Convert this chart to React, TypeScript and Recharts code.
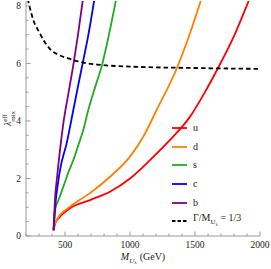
import React from 'react';
import { LineChart, Line, XAxis, YAxis } from 'recharts';

// mass grid (GeV) and lambda values, one pair of arrays per quark
const uMass = [412, 425, 462, 538, 692, 846, 1000, 1154, 1308, 1462, 1570, 1677, 1800, 1915];
const uLambda = [0.2, 0.45, 0.67, 0.96, 1.25, 1.54, 2.0, 2.64, 3.34, 4.15, 4.95, 5.84, 6.95, 8.2];

const dMass = [412, 420, 436, 538, 692, 846, 1000, 1102, 1205, 1362, 1450, 1546];
const dLambda = [0.2, 0.4, 0.56, 1.02, 1.49, 2.06, 2.76, 3.45, 4.38, 5.85, 6.9, 8.2];

const sMass = [412, 416, 423, 450, 487, 525, 564, 602, 641, 679, 730, 785, 838, 892];
const sLambda = [0.2, 0.5, 0.9, 1.25, 1.71, 2.2, 2.64, 3.15, 3.69, 4.38, 5.15, 5.95, 7.0, 8.2];

const cMass = [412, 418, 428, 445, 462, 513, 564, 600, 636, 680, 725];
const cLambda = [0.2, 0.6, 1.2, 1.8, 2.3, 3.23, 4.38, 5.2, 6, 7, 8.2];

const bMass = [412, 416, 422, 438, 462, 490, 528, 566, 600, 637];
const bLambda = [0.2, 0.6, 1.2, 2, 3, 4, 5, 6, 7, 8.2];

// width condition Gamma/M = 1/3
const wMass = [213, 230, 256, 300, 333, 385, 450, 515, 638, 769, 1000, 1500, 2000];
const wLambda = [8.25, 7.93, 7.51, 7.1, 6.82, 6.5, 6.3, 6.19, 6.03, 5.95, 5.89, 5.84, 5.81];

const xTicks = [200, 300, 400, 500, 600, 700, 800, 900, 1000, 1100, 1200, 1300, 1400, 1500, 1600, 1700, 1800, 1900, 2000];
const xLabels = [500, 1000, 1500, 2000];
const yTicks = [0, 0.5, 1, 1.5, 2, 2.5, 3, 3.5, 4, 4.5, 5, 5.5, 6, 6.5, 7, 7.5, 8];
const yLabels = [0, 2, 4, 6, 8];

const toPoints = (xs: number[], ys: number[]) => xs.map((x, i) => ({ x, y: ys[i] }));

const series = [
  { name: 'u', color: '#ff0000', data: toPoints(uMass, uLambda) },
  { name: 'd', color: '#ff8000', data: toPoints(dMass, dLambda) },
  { name: 's', color: '#22aa22', data: toPoints(sMass, sLambda) },
  { name: 'c', color: '#0000ff', data: toPoints(cMass, cLambda) },
  { name: 'b', color: '#800080', data: toPoints(bMass, bLambda) },
];
const widthLine = toPoints(wMass, wLambda);

const FONT = '"Liberation Serif", "DejaVu Serif", serif';
const FRAME = '#999999';
const TXT = '#222222';
const MAJOR = 4.5;
const MINOR = 2.5;

const BottomTick = (props: any) => {
  const { x, y, payload } = props;
  const axisY = y - 4;
  const major = xLabels.includes(payload.value);
  return (
    <g>
      <line x1={x} x2={x} y1={axisY} y2={axisY - (major ? MAJOR : MINOR)} stroke={FRAME} />
      {major && (
        <text x={x} y={axisY + 12} textAnchor="middle" fontFamily={FONT} fontSize={9.5} fill={TXT}>
          {payload.value}
        </text>
      )}
    </g>
  );
};

const TopTick = (props: any) => {
  const { x, y, payload } = props;
  const major = xLabels.includes(payload.value);
  return <line x1={x} x2={x} y1={y} y2={y + (major ? MAJOR : MINOR)} stroke={FRAME} />;
};

const LeftTick = (props: any) => {
  const { x, y, payload } = props;
  const axisX = x + 5;
  const major = yLabels.includes(payload.value);
  return (
    <g>
      <line x1={axisX} x2={axisX + (major ? MAJOR : MINOR)} y1={y} y2={y} stroke={FRAME} />
      {major && (
        <text x={x} y={y} dy="0.35em" textAnchor="end" fontFamily={FONT} fontSize={9.5} fill={TXT}>
          {payload.value}
        </text>
      )}
    </g>
  );
};

const RightTick = (props: any) => {
  const { x, y, payload } = props;
  const major = yLabels.includes(payload.value);
  return <line x1={x} x2={x - (major ? MAJOR : MINOR)} y1={y} y2={y} stroke={FRAME} />;
};

const XTitle = (props: any) => {
  const vb = props.viewBox;
  return (
    <text x={vb.x + vb.width / 2} y={vb.y + 24} textAnchor="middle" fontFamily={FONT} fontSize={10} fill={TXT}>
      <tspan fontStyle="italic">M</tspan>
      <tspan fontStyle="italic" fontSize={7} dy={2.5}>U</tspan>
      <tspan fontSize={5} dy={1.5}>λ</tspan>
      <tspan dy={-4} dx={3}>(GeV)</tspan>
    </text>
  );
};

const YTitle = (props: any) => {
  const vb = props.viewBox;
  const cx = 11;
  const cy = vb.y + vb.height / 2;
  return (
    <text transform={`translate(${cx},${cy}) rotate(-90)`} textAnchor="middle" fontFamily={FONT} fontSize={10} fill={TXT}>
      <tspan fontStyle="italic">λ</tspan>
      <tspan fontSize={7} dy={-4}>eff</tspan>
      <tspan fontSize={7} dx={-7.8} dy={7.5}>mix</tspan>
    </text>
  );
};

const LegendRow: React.FC<{ color: string; dashed?: boolean; children: React.ReactNode }> = ({ color, dashed, children }) => (
  <div style={{ display: 'flex', alignItems: 'center', height: 18.6 }}>
    <svg width={15} height={4} style={{ display: 'block' }}>
      <line x1={0} x2={15} y1={2} y2={2} stroke={color} strokeWidth={1.8} strokeDasharray={dashed ? '3.5 2' : undefined} />
    </svg>
    <span style={{ marginLeft: 6, fontFamily: FONT, fontSize: 10, color: TXT, lineHeight: '12px', whiteSpace: 'nowrap' }}>
      {children}
    </span>
  </div>
);

export default function App() {
  return (
    <div style={{ position: 'relative', width: 271, height: 269 }}>
      <style>{'body{margin:0}'}</style>
      <LineChart width={271} height={269} margin={{ top: 1, right: 11, bottom: 0, left: 0 }}>
        <XAxis
          xAxisId="b"
          type="number"
          dataKey="x"
          domain={[200, 2000]}
          allowDataOverflow
          ticks={xTicks}
          interval={0}
          height={33}
          tickSize={0}
          tickMargin={4}
          tickLine={false}
          axisLine={{ stroke: FRAME }}
          tick={<BottomTick />}
          label={{ content: <XTitle /> }}
        />
        <XAxis
          xAxisId="t"
          orientation="top"
          type="number"
          dataKey="x"
          domain={[200, 2000]}
          allowDataOverflow
          ticks={xTicks}
          interval={0}
          height={0}
          tickSize={0}
          tickMargin={0}
          tickLine={false}
          axisLine={{ stroke: FRAME }}
          tick={<TopTick />}
        />
        <YAxis
          yAxisId="l"
          type="number"
          domain={[0, 8.17]}
          allowDataOverflow
          ticks={yTicks}
          interval={0}
          width={26}
          tickSize={0}
          tickMargin={5}
          tickLine={false}
          axisLine={{ stroke: FRAME }}
          tick={<LeftTick />}
          label={{ content: <YTitle /> }}
        />
        <YAxis
          yAxisId="r"
          orientation="right"
          type="number"
          domain={[0, 8.17]}
          allowDataOverflow
          ticks={yTicks}
          interval={0}
          width={0}
          tickSize={0}
          tickMargin={0}
          tickLine={false}
          axisLine={{ stroke: FRAME }}
          tick={<RightTick />}
        />
        {series.map((s) => (
          <Line
            key={s.name}
            xAxisId="b"
            yAxisId="l"
            data={s.data}
            dataKey="y"
            name={s.name}
            type="monotone"
            stroke={s.color}
            strokeWidth={1.8}
            dot={false}
            isAnimationActive={false}
          />
        ))}
        <Line
          xAxisId="b"
          yAxisId="l"
          data={widthLine}
          dataKey="y"
          name="width"
          type="monotone"
          stroke="#000000"
          strokeWidth={1.8}
          strokeDasharray="4.5 3"
          dot={false}
          isAnimationActive={false}
        />
      </LineChart>
      <div style={{ position: 'absolute', left: 172, top: 119 }}>
        {series.map((s) => (
          <LegendRow key={s.name} color={s.color}>{s.name}</LegendRow>
        ))}
        <LegendRow color="#000000" dashed>
          Γ/M<sub style={{ fontSize: 7 }}>U<sub style={{ fontSize: 5 }}>λ</sub></sub> = 1/3
        </LegendRow>
      </div>
    </div>
  );
}
